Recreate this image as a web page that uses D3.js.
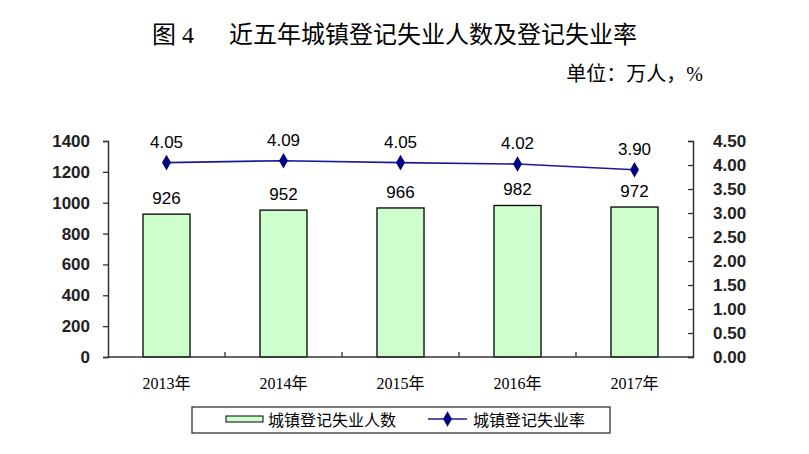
<!DOCTYPE html>
<html><head><meta charset="utf-8">
<script src="https://cdn.jsdelivr.net/npm/d3@7"></script>
<style>body{margin:0;background:#fff}</style>
</head><body>
<svg id="c" width="809" height="454"></svg>
<script>
const categories = ["2013年","2014年","2015年","2016年","2017年"];
const unemployed = [926, 952, 966, 982, 972];
const rate = [4.05, 4.09, 4.05, 4.02, 3.90];
const leftTicks = [0,200,400,600,800,1000,1200,1400];
const rightTicks = [0,0.5,1,1.5,2,2.5,3,3.5,4,4.5];

const svg = d3.select("#c");
const L = 108, R = 693, T = 141, B = 357;
const x = d3.scaleBand().domain(categories).range([L, R]);
const yL = d3.scaleLinear().domain([0,1400]).range([B, T]);
const yR = d3.scaleLinear().domain([0,4.5]).range([B, T]);
const serif = "'Liberation Serif','Times New Roman','Noto Sans CJK SC',serif";
const sans = "'Liberation Sans',Arial,sans-serif";

const title = svg.append("text").attr("y", 43).attr("font-family", serif)
  .attr("font-size", 24).attr("fill", "#000");
title.append("tspan").attr("x", 152).text("图 4");
title.append("tspan").attr("x", 229).text("近五年城镇登记失业人数及登记失业率");
svg.append("text").attr("x", 703).attr("y", 81).attr("text-anchor","end").attr("font-family", serif)
  .attr("font-size", 20).attr("fill", "#000").text("单位：万人，%");

// bars
const bw = 47;
svg.selectAll("rect.bar").data(unemployed).join("rect").attr("class","bar")
  .attr("x", (d,i)=> x(categories[i]) + x.bandwidth()/2 - bw/2)
  .attr("y", d=> yL(d)).attr("width", bw).attr("height", d=> B - yL(d))
  .attr("fill", "#ccffcc").attr("stroke", "#000").attr("stroke-width", 1.3);
svg.selectAll("text.bl").data(unemployed).join("text").attr("class","bl")
  .attr("x", (d,i)=> x(categories[i]) + x.bandwidth()/2)
  .attr("y", d=> yL(d) - 10).attr("text-anchor","middle")
  .attr("font-family", sans).attr("font-size", 17).attr("fill","#000").text(d=>d);

// axes
const gL = svg.append("g").attr("transform", `translate(${L},0)`)
  .call(d3.axisLeft(yL).tickValues(leftTicks).tickSize(5).tickPadding(13).tickFormat(d3.format("d")));
const gR = svg.append("g").attr("transform", `translate(${R},0)`)
  .call(d3.axisRight(yR).tickValues(rightTicks).tickSize(-5).tickPadding(20).tickFormat(d3.format(".2f")));
const gB = svg.append("g").attr("transform", `translate(0,${B})`)
  .call(d3.axisBottom(x).tickSize(0).tickPadding(21));
[gL,gR,gB].forEach(g=>{
  g.select(".domain").attr("stroke","#333").attr("stroke-width",1.5);
  g.selectAll(".tick line").attr("stroke","#333").attr("stroke-width",1.3);
});
gL.selectAll("text").attr("font-family", sans).attr("font-size", 17).attr("font-weight","bold").attr("fill","#222");
gR.selectAll("text").attr("font-family", sans).attr("font-size", 17).attr("font-weight","bold").attr("fill","#222");
gB.selectAll("text").attr("font-family", serif).attr("font-size", 16).attr("fill","#000");
gB.select(".domain").attr("d", `M${L},0H${R}`);
// category boundary ticks (pointing up)
gB.selectAll("line.bt").data(categories.slice(1)).join("line").attr("class","bt")
  .attr("x1", d=>x(d)).attr("x2", d=>x(d)).attr("y1",0).attr("y2",-5)
  .attr("stroke","#333").attr("stroke-width",1.3);

// line
const line = d3.line().x((d,i)=> x(categories[i]) + x.bandwidth()/2).y(d=> yR(d));
svg.append("path").datum(rate).attr("d", line).attr("fill","none")
  .attr("stroke","#1a1a99").attr("stroke-width",1.6);
const diamond = d3.symbol().type(d3.symbolDiamond).size(70);
svg.selectAll("path.mk").data(rate).join("path").attr("class","mk")
  .attr("transform",(d,i)=>`translate(${x(categories[i]) + x.bandwidth()/2},${yR(d)})`)
  .attr("d", diamond).attr("fill","#000080");
svg.selectAll("text.rl").data(rate).join("text").attr("class","rl")
  .attr("x",(d,i)=> x(categories[i]) + x.bandwidth()/2)
  .attr("y", d=> yR(d) - 15).attr("text-anchor","middle")
  .attr("font-family", sans).attr("font-size", 17).attr("fill","#000").text(d=>d.toFixed(2));

// legend
svg.append("rect").attr("x",192).attr("y",407).attr("width",418).attr("height",26)
  .attr("fill","#fff").attr("stroke","#333").attr("stroke-width",1.3);
svg.append("rect").attr("x",226).attr("y",416).attr("width",37).attr("height",6)
  .attr("fill","#ccffcc").attr("stroke","#000").attr("stroke-width",1);
svg.append("text").attr("x",268).attr("y",426).attr("font-family", serif).attr("font-size",16).text("城镇登记失业人数");
svg.append("line").attr("x1",428).attr("x2",467).attr("y1",419).attr("y2",419).attr("stroke","#1a1a99").attr("stroke-width",1.6);
svg.append("path").attr("transform","translate(447.5,419)").attr("d", diamond).attr("fill","#000080");
svg.append("text").attr("x",473).attr("y",426).attr("font-family", serif).attr("font-size",16).text("城镇登记失业率");
</script>
</body></html>
